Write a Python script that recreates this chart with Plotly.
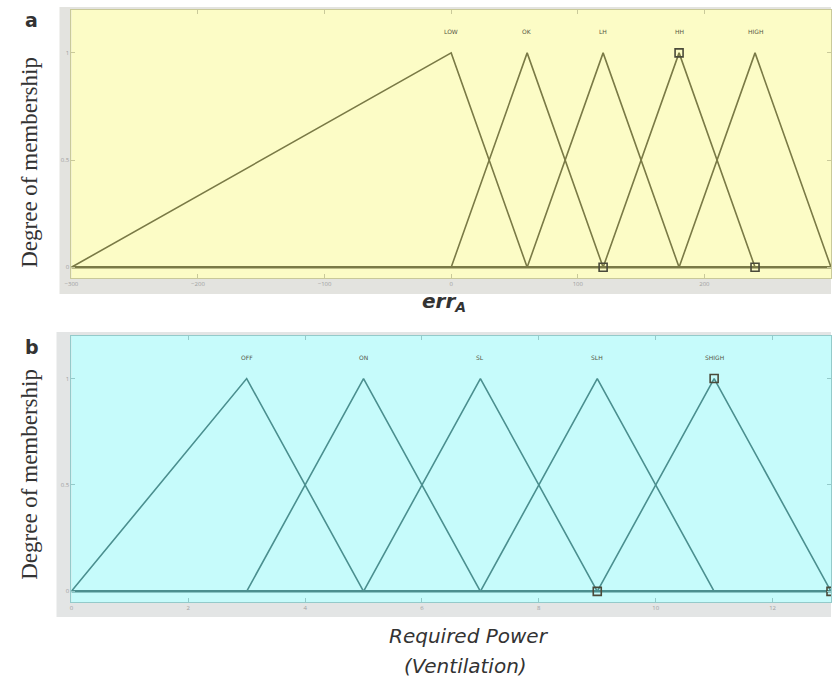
import plotly.graph_objects as go

W, H = 832, 683

# ---------- data ----------
# panel a: input err_A, triangular MFs (x vertices, y vertices)
a_names = ["LOW", "OK", "LH", "HH", "HIGH"]
a_x = [[-300, 0, 60], [0, 60, 120], [60, 120, 180], [120, 180, 240], [180, 240, 300]]
a_y = [[0, 1, 0], [0, 1, 0], [0, 1, 0], [0, 1, 0], [0, 1, 0]]
a_sel = 3  # highlighted MF
a_xticks = [-300, -200, -100, 0, 100, 200, 300]

# panel b: output Required Power (Ventilation)
b_names = ["OFF", "ON", "SL", "SLH", "SHIGH"]
b_x = [[0, 3, 5], [3, 5, 7], [5, 7, 9], [7, 9, 11], [9, 11, 13]]
b_y = [[0, 1, 0], [0, 1, 0], [0, 1, 0], [0, 1, 0], [0, 1, 0]]
b_sel = 4
b_xticks = [0, 2, 4, 6, 8, 10, 12]

y_ticks = [0, 0.5, 1]
y_ticklabels = ["0", "0.5", "1"]


def px(x):
    return x / W


def py(y):
    return 1 - y / H


fig = go.Figure()

panels = [
    dict(xs=a_x, ys=a_y, names=a_names, sel=a_sel, xticks=a_xticks, xr=[-300, 300],
         xa="x", ya="y", line="#7a7a46", bg="#fcfcc6", axc="#c9c99a",
         dom_x=[px(65), 1], dom_y=[py(278), py(10)]),
    dict(xs=b_x, ys=b_y, names=b_names, sel=b_sel, xticks=b_xticks, xr=[0, 13],
         xa="x2", ya="y2", line="#4b8f8f", bg="#c6fbfb", axc="#94caca",
         dom_x=[px(65), 1], dom_y=[py(602), py(336)]),
]

for p in panels:
    for i, (xv, yv) in enumerate(zip(p["xs"], p["ys"])):
        fig.add_trace(go.Scatter(x=xv, y=yv, mode="lines", xaxis=p["xa"], yaxis=p["ya"],
                                 line=dict(color=p["line"], width=1.6), showlegend=False,
                                 hoverinfo="skip"))
    # baseline at zero
    fig.add_trace(go.Scatter(x=p["xr"], y=[0, 0], mode="lines", xaxis=p["xa"], yaxis=p["ya"],
                             line=dict(color=p["line"], width=2.5), showlegend=False,
                             hoverinfo="skip"))
    # selected MF vertices
    s = p["sel"]
    fig.add_trace(go.Scatter(x=p["xs"][s], y=p["ys"][s], mode="markers",
                             xaxis=p["xa"], yaxis=p["ya"], cliponaxis=True,
                             marker=dict(symbol="square-open", size=8,
                                         color="#4a4a3a", line=dict(width=1.6)),
                             showlegend=False, hoverinfo="skip"))
    # MF labels
    for name, xv in zip(p["names"], p["xs"]):
        fig.add_annotation(x=xv[1], y=1.1, xref=p["xa"], yref=p["ya"], text=name,
                           showarrow=False, xanchor="center", yanchor="middle",
                           font=dict(size=6, color="#555544", family="DejaVu Sans"))

common_x = dict(showgrid=False, zeroline=False, showline=True, mirror="ticks",
                ticks="inside", ticklen=4, tickfont=dict(size=6, color="#a0a0a0"))
common_y = dict(range=[-0.05, 1.2], showgrid=False, zeroline=False, showline=True,
                mirror="ticks", ticks="inside", ticklen=4, tickvals=y_ticks,
                ticktext=y_ticklabels, tickfont=dict(size=6, color="#a0a0a0"))

pa, pb = panels
fig.update_layout(
    width=W, height=H, margin=dict(l=0, r=0, t=0, b=0),
    paper_bgcolor="white", plot_bgcolor=pa["bg"],
    xaxis=dict(domain=pa["dom_x"], range=pa["xr"], anchor="y", tickvals=pa["xticks"],
               linecolor=pa["axc"], tickcolor=pa["axc"], **common_x),
    yaxis=dict(domain=pa["dom_y"], anchor="x", linecolor=pa["axc"], tickcolor=pa["axc"],
               **common_y),
    xaxis2=dict(domain=pb["dom_x"], range=pb["xr"], anchor="y2", tickvals=pb["xticks"],
                linecolor=pb["axc"], tickcolor=pb["axc"], **common_x),
    yaxis2=dict(domain=pb["dom_y"], anchor="x2", linecolor=pb["axc"], tickcolor=pb["axc"],
                **common_y),
)

# backgrounds: gray frames and coloured plot areas
fig.add_shape(type="rect", xref="paper", yref="paper", x0=px(53), x1=1, y0=py(294), y1=py(7),
              fillcolor="#e3e3df", line=dict(width=0), layer="below")
fig.add_shape(type="rect", xref="paper", yref="paper", x0=px(65), x1=1, y0=py(278), y1=py(10),
              fillcolor=pa["bg"], line=dict(width=0), layer="below")
fig.add_shape(type="rect", xref="paper", yref="paper", x0=px(50), x1=1, y0=py(617), y1=py(332),
              fillcolor="#e3e5e5", line=dict(width=0), layer="below")
fig.add_shape(type="rect", xref="paper", yref="paper", x0=px(65), x1=1, y0=py(602), y1=py(336),
              fillcolor=pb["bg"], line=dict(width=0), layer="below")

ann = dict(xref="paper", yref="paper", showarrow=False, xanchor="center", yanchor="middle")

# panel letters
fig.add_annotation(x=px(25), y=py(20), text="<b>a</b>",
                   font=dict(size=19, color="#333333", family="DejaVu Sans"), **ann)
fig.add_annotation(x=px(25), y=py(347), text="<b>b</b>",
                   font=dict(size=19, color="#333333", family="DejaVu Sans"), **ann)

# y titles
for yc in (162, 474):
    fig.add_annotation(x=px(22), y=py(yc), text="Degree of membership", textangle=-90,
                       font=dict(size=23, color="#333333", family="Liberation Serif"), **ann)

# x titles
fig.add_annotation(x=px(441), y=py(302),
                   text="<b><i>err</i></b><sub><b><i>A</i></b></sub>",
                   font=dict(size=20, color="#333333", family="DejaVu Sans"), **ann)
fig.add_annotation(x=px(466), y=py(636), text="<i>Required Power</i>",
                   font=dict(size=20, color="#333333", family="DejaVu Sans"), **ann)
fig.add_annotation(x=px(463), y=py(666), text="<i>(Ventilation)</i>",
                   font=dict(size=20, color="#333333", family="DejaVu Sans"), **ann)

fig.write_html("out.html", config={"displayModeBar": False},
               post_script="document.body.style.margin='0';document.body.style.overflow='hidden';")
